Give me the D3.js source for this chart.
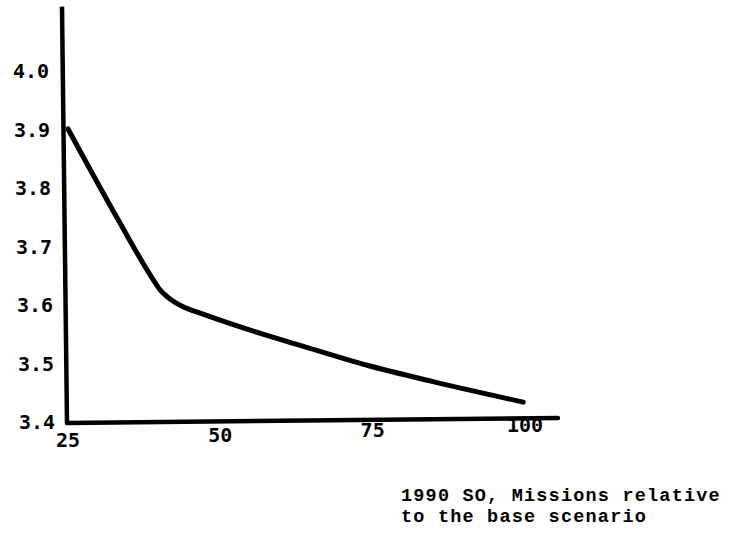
<!DOCTYPE html>
<html>
<head>
<meta charset="utf-8">
<script src="https://cdn.jsdelivr.net/npm/d3@7"></script>
<style>
  html, body { margin: 0; padding: 0; background: #fff; }
  svg { display: block; }
</style>
</head>
<body>
<svg id="chart" width="750" height="545"></svg>
<script>
// ---- data ----
const missions = [25, 33.0, 39.0, 40.1, 41.3, 43.9, 46.7, 54.9, 63.1, 74.1, 84.9, 99.7];
const values   = [3.901, 3.750, 3.643, 3.626, 3.614, 3.597, 3.586, 3.557, 3.531, 3.497, 3.469, 3.434];
const xTicks = [25, 50, 75, 100];
const yTicks = [3.4, 3.5, 3.6, 3.7, 3.8, 3.9, 4.0];
const xAxisExtent = [25, 105.4];
const yAxisExtent = [3.4, 4.11];
const captionLines = ["1990 SO, Missions relative", "to the base scenario"];

const svg = d3.select("#chart");
const x = d3.scaleLinear().domain([25, 100]).range([68, 525]);
const y = d3.scaleLinear().domain([3.4, 4.0]).range([422, 71]);

// axes (hand drawn look: slight slant)
svg.append("line")
  .attr("x1", x(xAxisExtent[0]) - 1).attr("y1", y(yAxisExtent[0]) + 1)
  .attr("x2", x(xAxisExtent[1])).attr("y2", y(yAxisExtent[0]) - 4)
  .attr("stroke", "#000").attr("stroke-width", 4.5).attr("stroke-linecap", "round");
svg.append("line")
  .attr("x1", x(xAxisExtent[0]) - 1).attr("y1", y(yAxisExtent[0]) + 1)
  .attr("x2", x(xAxisExtent[0]) - 6).attr("y2", y(yAxisExtent[1]))
  .attr("stroke", "#000").attr("stroke-width", 4.5).attr("stroke-linecap", "butt");

// y tick labels
svg.append("g").selectAll("text").data(yTicks).join("text")
  .attr("x", d => 49 + (4.0 - d) * 10)
  .attr("y", d => y(d))
  .attr("text-anchor", "end")
  .attr("dominant-baseline", "central")
  .attr("font-family", "DejaVu Sans Mono")
  .attr("font-weight", "bold")
  .attr("font-size", 20)
  .text(d => d.toFixed(1));

// x tick labels
svg.append("g").selectAll("text").data(xTicks).join("text")
  .attr("x", d => x(d))
  .attr("y", d => 440 - (x(d) - x(25)) * (15 / 457))
  .attr("text-anchor", "middle")
  .attr("dominant-baseline", "central")
  .attr("font-family", "DejaVu Sans Mono")
  .attr("font-weight", "bold")
  .attr("font-size", 20)
  .text(d => d);

// curve
const line = d3.line()
  .x((d, i) => x(missions[i]))
  .y(d => y(d))
  .curve(d3.curveMonotoneX);
svg.append("path")
  .datum(values)
  .attr("d", line)
  .attr("fill", "none")
  .attr("stroke", "#000")
  .attr("stroke-width", 5)
  .attr("stroke-linejoin", "round")
  .attr("stroke-linecap", "round");

// caption
svg.append("g").selectAll("text").data(captionLines).join("text")
  .attr("x", 401)
  .attr("y", (d, i) => 501 + i * 21)
  .attr("font-family", "'Liberation Mono', monospace")
  .attr("font-weight", "bold")
  .attr("font-size", 18.5)
  .attr("letter-spacing", 1.2)
  .attr("xml:space", "preserve")
  .text(d => d);
</script>
</body>
</html>
